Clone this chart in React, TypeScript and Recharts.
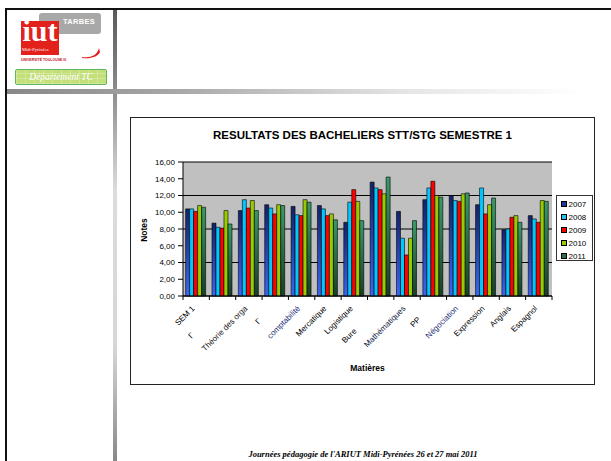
import React from "react";
import { Bar, BarChart, CartesianGrid, XAxis, YAxis } from "recharts";

const categories = [
  "SEM 1",
  "Γ",
  "Théorie des orga",
  "Γ",
  "comptabilité",
  "Mercatique",
  "Logistique",
  "Bure",
  "Mathématiques",
  "PP",
  "Négociation",
  "Expression",
  "Anglais",
  "Espagnol",
];

const years = ["2007", "2008", "2009", "2010", "2011"];

const notes2007 = [10.4, 8.7, 10.2, 10.9, 10.7, 10.8, 8.8, 13.6, 10.1, 11.5, 12.0, 10.9, 7.9, 9.6];
const notes2008 = [10.4, 8.2, 11.5, 10.5, 9.7, 10.4, 11.2, 12.9, 6.9, 12.9, 11.4, 12.9, 8.0, 9.2];
const notes2009 = [10.1, 8.1, 10.5, 9.8, 9.6, 9.6, 12.7, 12.7, 4.9, 13.7, 11.3, 9.8, 9.4, 8.8];
const notes2010 = [10.8, 10.2, 11.4, 10.9, 11.5, 9.8, 11.3, 12.2, 6.9, 12.0, 12.2, 10.9, 9.6, 11.4];
const notes2011 = [10.6, 8.6, 10.2, 10.8, 11.2, 9.1, 9.0, 14.2, 9.0, 11.8, 12.3, 11.7, 8.8, 11.3];

const yTicks = [0, 2, 4, 6, 8, 10, 12, 14, 16];

const seriesValues = [notes2007, notes2008, notes2009, notes2010, notes2011];
const seriesFill = ["url(#g2007)", "#00c8ff", "#ff0000", "#99cc00", "url(#g2011)"];
const legendSwatch = ["#1f3a9f", "#1ec8f0", "#ff0000", "#99cc00", "#2e7050"];

const data = categories.map((name, i) => {
  const row: Record<string, string | number> = { name };
  years.forEach((y, k) => (row["y" + y] = seriesValues[k][i]));
  return row;
});

const FONT = "'Liberation Sans', Arial, sans-serif";
const CHART_W = 465;
const CHART_H = 268;
const MARGIN = { top: 45, right: 43, left: 0, bottom: 0 };
const Y_AXIS_W = 53;
const BAND = (CHART_W - MARGIN.right - Y_AXIS_W) / categories.length;

// some labels sit lower along their own baseline in the original slide
const labelShift = [0, 38, 0, 18, 0, 0, 0, 32, 0, 16, 0, 0, 0, 0];
const labelColor = ["#000", "#000", "#111", "#000", "#1c2a78", "#000", "#000", "#000", "#101840", "#000", "#1c2a78", "#000", "#000", "#000"];

function CategoryTick(props: any) {
  const { x, y, payload, index } = props;
  const last = index === categories.length - 1;
  return (
    <g>
      <line x1={x - BAND / 2} x2={x - BAND / 2} y1={y} y2={y + 4} stroke="#000" />
      {last && <line x1={x + BAND / 2} x2={x + BAND / 2} y1={y} y2={y + 4} stroke="#000" />}
      <text
        transform={`translate(${x - 1},${y + 13}) rotate(-45)`}
        textAnchor="end"
        fontSize={8}
        fill={labelColor[index]}
        dx={-labelShift[index]}
      >
        {payload.value}
      </text>
    </g>
  );
}

function Logo() {
  return (
    <>
      <div style={{ position: "absolute", left: 39, top: 13, width: 62, height: 21, background: "#a8a8a8", borderRadius: 3 }} />
      <div style={{ position: "absolute", left: 60, top: 17, width: 38, fontSize: 7.5, fontWeight: "bold", color: "#fff", textAlign: "center", fontFamily: FONT, letterSpacing: 0.3 }}>
        TARBES
      </div>
      <svg style={{ position: "absolute", left: 80, top: 44 }} width={24} height={16}>
        <path d="M2 13 C 10 14, 17 12, 19 4 L 20 8 C 18 13, 10 15, 2 14 Z" fill="#e2211c" />
      </svg>
      <div style={{ position: "absolute", left: 21, top: 21, width: 38, height: 34, background: "#e2211c" }} />
      <div style={{ position: "absolute", left: 21, top: 14, width: 38, textAlign: "center", color: "#fff", fontFamily: "'Liberation Serif', serif", fontWeight: "bold", fontSize: 30, lineHeight: "34px" }}>
        iut
      </div>
      <div style={{ position: "absolute", left: 22, top: 47, width: 36, color: "#fff", fontFamily: "'Liberation Serif', serif", fontSize: 4.5, whiteSpace: "nowrap" }}>
        Midi-Pyrénées
      </div>
      <div style={{ position: "absolute", left: 21, top: 58, width: 40, color: "#c0141c", fontFamily: FONT, fontWeight: "bold", fontSize: 3.5, whiteSpace: "nowrap" }}>
        UNIVERSITÉ TOULOUSE III
      </div>
      <div
        style={{
          position: "absolute",
          left: 15,
          top: 69,
          width: 90,
          height: 14,
          border: "1px solid #5fb85f",
          borderRadius: 2,
          background:
            "repeating-linear-gradient(90deg, rgba(255,255,255,0.25) 0 1px, transparent 1px 9px), repeating-linear-gradient(0deg, rgba(255,255,255,0.25) 0 1px, transparent 1px 5px), #c3df78",
          color: "#fff",
          fontFamily: "'Liberation Serif', serif",
          fontStyle: "italic",
          fontSize: 9.5,
          lineHeight: "14px",
          textAlign: "center",
        }}
      >
        Département TC
      </div>
    </>
  );
}

export default function App() {
  return (
    <div style={{ position: "absolute", left: 0, top: 0, width: 611, height: 461, overflow: "hidden", background: "#fff", fontFamily: FONT }}>
      {/* slide frame */}
      <div style={{ position: "absolute", left: 5, top: 8, width: 606, height: 2, background: "#111" }} />
      <div style={{ position: "absolute", left: 5, top: 8, width: 2, height: 453, background: "#111" }} />
      <div style={{ position: "absolute", left: 113, top: 10, width: 4, height: 451, background: "linear-gradient(180deg, #5a5a5a 0%, #8c8c8c 18%, #dcdcdc 40%, #d6d6d6 75%, #888 100%)" }} />
      <div style={{ position: "absolute", left: 7, top: 89, width: 575, height: 5, background: "linear-gradient(90deg, #888 0%, #a8a8a8 30%, #e6e6e6 70%, #fff 100%)" }} />
      <Logo />

      {/* chart */}
      <div style={{ position: "absolute", left: 130, top: 117, width: CHART_W, height: CHART_H }}>
        <BarChart
          width={CHART_W}
          height={CHART_H}
          data={data}
          margin={MARGIN}
          barCategoryGap="10%"
          barGap={0}
          style={{ fontFamily: FONT }}
        >
          <defs>
            <linearGradient id="g2007" x1="0" y1="0" x2="0" y2="1">
              <stop offset="0%" stopColor="#14226a" />
              <stop offset="100%" stopColor="#3b66f5" />
            </linearGradient>
            <linearGradient id="g2011" x1="0" y1="0" x2="0" y2="1">
              <stop offset="0%" stopColor="#3a9a68" />
              <stop offset="100%" stopColor="#173f27" />
            </linearGradient>
          </defs>
          <CartesianGrid vertical={false} fill="#c0c0c0" stroke="#000" strokeWidth={1} />
          <XAxis
            dataKey="name"
            interval={0}
            height={CHART_H - 179}
            tickSize={0}
            tickMargin={0}
            tickLine={false}
            axisLine={{ stroke: "#000" }}
            tick={<CategoryTick />}
          />
          <YAxis
            width={Y_AXIS_W}
            domain={[0, 16]}
            ticks={yTicks}
            tickSize={5}
            tickMargin={3}
            tickFormatter={(v: number) => v.toFixed(2).replace(".", ",")}
            tick={{ fontSize: 8, fill: "#000" }}
            axisLine={{ stroke: "#000" }}
            tickLine={{ stroke: "#000" }}
          />
          <YAxis yAxisId="frame" orientation="right" width={0} tick={false} tickLine={false} axisLine={{ stroke: "#808080" }} />
          {years.map((y, k) => (
            <Bar key={y} dataKey={"y" + y} fill={seriesFill[k]} stroke="#000" strokeWidth={0.6} isAnimationActive={false} />
          ))}
        </BarChart>

        {/* chart texts */}
        <div style={{ position: "absolute", left: 0, top: 12, width: CHART_W, textAlign: "center", fontWeight: "bold", fontSize: 11.5, whiteSpace: "nowrap" }}>
          RESULTATS DES BACHELIERS STT/STG SEMESTRE 1
        </div>
        <div style={{ position: "absolute", left: 14, top: 113, width: 0, height: 0 }}>
          <div style={{ position: "absolute", transform: "translate(-50%,-50%) rotate(-90deg)", fontWeight: "bold", fontSize: 8.5, whiteSpace: "nowrap" }}>
            Notes
          </div>
        </div>
        <div style={{ position: "absolute", left: 53, top: 246, width: 369, textAlign: "center", fontWeight: "bold", fontSize: 8.5 }}>
          Matières
        </div>

        {/* legend */}
        <div style={{ position: "absolute", left: 426, top: 78, width: 35, height: 64, border: "1px solid #333", background: "#fff" }}>
          {years.map((y, k) => (
            <div key={y} style={{ position: "absolute", left: 4, top: 3 + k * 13, height: 10, display: "flex", alignItems: "center", fontSize: 8 }}>
              <span style={{ display: "inline-block", width: 4, height: 4, background: legendSwatch[k], border: "0.5px solid #000", marginRight: 1.5 }} />
              {y}
            </div>
          ))}
        </div>
        <div style={{ position: "absolute", left: 0, top: 0, width: CHART_W, height: CHART_H, border: "1.5px solid #222", boxSizing: "border-box", pointerEvents: "none" }} />
      </div>

      {/* footer */}
      <div style={{ position: "absolute", left: 115, top: 449, width: 496, textAlign: "center", fontFamily: "'Liberation Serif', serif", fontStyle: "italic", fontWeight: "bold", fontSize: 8.5, lineHeight: "11px", whiteSpace: "nowrap" }}>
        Journées pédagogie de l'ARIUT Midi-Pyrénées 26 et 27 mai 2011
      </div>
    </div>
  );
}
